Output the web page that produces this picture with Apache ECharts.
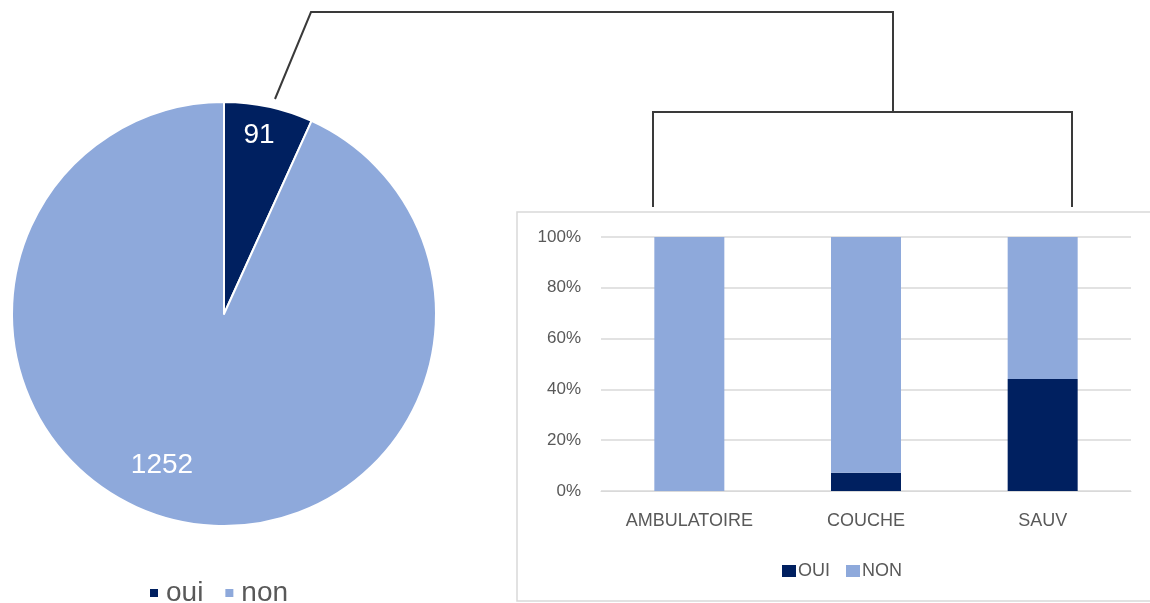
<!DOCTYPE html>
<html>
<head>
<meta charset="utf-8">
<script src="https://cdn.jsdelivr.net/npm/echarts@6/dist/echarts.min.js"></script>
<style>
html,body{margin:0;padding:0;background:#fff;}
#chart{width:1150px;height:603px;}
</style>
</head>
<body>
<div id="chart"></div>
<script>
// Pie data
const pieNames = ['oui', 'non'];
const pieValues = [91, 1252];
// Stacked 100% bar data
const barCategories = ['AMBULATOIRE', 'COUCHE', 'SAUV'];
const barSeriesNames = ['OUI', 'NON'];
const ouiPct = [0, 7.2, 44.1];
const nonPct = [100, 92.8, 55.9];
const yTicks = [0, 20, 40, 60, 80, 100];

const DARK = '#002060';
const LIGHT = '#8EA9DB';
const GRAY = '#595959';

const chart = echarts.init(document.getElementById('chart'));

const pieLabelOffsets = [[12, -72], [-39, 45]];

const option = {
  backgroundColor: '#ffffff',
  animation: false,
  graphic: [
    { type: 'rect', z: -10, shape: { x: 517, y: 212, width: 700, height: 389 },
      style: { fill: '#ffffff', stroke: '#d9d9d9', lineWidth: 1.5 } },
    { type: 'polyline', shape: { points: [[275, 99], [311, 12], [893, 12], [893, 112]] },
      style: { fill: null, stroke: '#3a3a3a', lineWidth: 2 } },
    { type: 'polyline', shape: { points: [[653, 207], [653, 112], [1072, 112], [1072, 207]] },
      style: { fill: null, stroke: '#3a3a3a', lineWidth: 2 } }
  ],
  legend: [
    {
      data: pieNames,
      left: 143, top: 574,
      icon: 'rect', itemWidth: 10, itemHeight: 10, itemGap: 20,
      textStyle: { fontFamily: 'Liberation Sans', fontSize: 28, color: GRAY, padding: [0, 0, 0, 2] }
    },
    {
      data: barSeriesNames,
      left: 777, top: 557,
      icon: 'rect', itemWidth: 14, itemHeight: 12, itemGap: 16,
      textStyle: { fontFamily: 'Liberation Sans', fontSize: 18, color: GRAY, padding: [0, 0, 0, -3] }
    }
  ],
  grid: { left: 601, right: 19, top: 237, bottom: 112 },
  xAxis: {
    type: 'category',
    data: barCategories,
    axisLine: { show: true, lineStyle: { color: '#d9d9d9' } },
    axisTick: { show: false },
    axisLabel: { color: GRAY, fontFamily: 'Liberation Sans', fontSize: 18, margin: 21 }
  },
  yAxis: {
    type: 'value',
    min: 0, max: 100, interval: 20,
    axisLine: { show: false },
    axisTick: { show: false },
    splitLine: { lineStyle: { color: '#d9d9d9', width: 1.5 } },
    axisLabel: {
      color: GRAY, fontFamily: 'Liberation Sans', fontSize: 17, margin: 20,
      formatter: v => yTicks.includes(v) ? v + '%' : ''
    }
  },
  series: [
    {
      type: 'pie',
      center: [224, 314],
      radius: 212,
      startAngle: 90,
      clockwise: true,
      legendHoverLink: false,
      itemStyle: { borderColor: '#ffffff', borderWidth: 2 },
      label: {
        show: true, position: 'inside',
        formatter: '{c}',
        color: '#ffffff', fontFamily: 'Liberation Sans', fontSize: 28
      },
      labelLine: { show: false },
      data: pieNames.map((n, i) => ({
        name: n, value: pieValues[i],
        itemStyle: { color: i === 0 ? DARK : LIGHT },
        label: { offset: pieLabelOffsets[i] }
      }))
    },
    {
      name: barSeriesNames[0], type: 'bar', stack: 'total', barWidth: 70,
      itemStyle: { color: DARK }, data: ouiPct
    },
    {
      name: barSeriesNames[1], type: 'bar', stack: 'total', barWidth: 70,
      itemStyle: { color: LIGHT }, data: nonPct
    }
  ]
};
chart.setOption(option);
</script>
</body>
</html>
